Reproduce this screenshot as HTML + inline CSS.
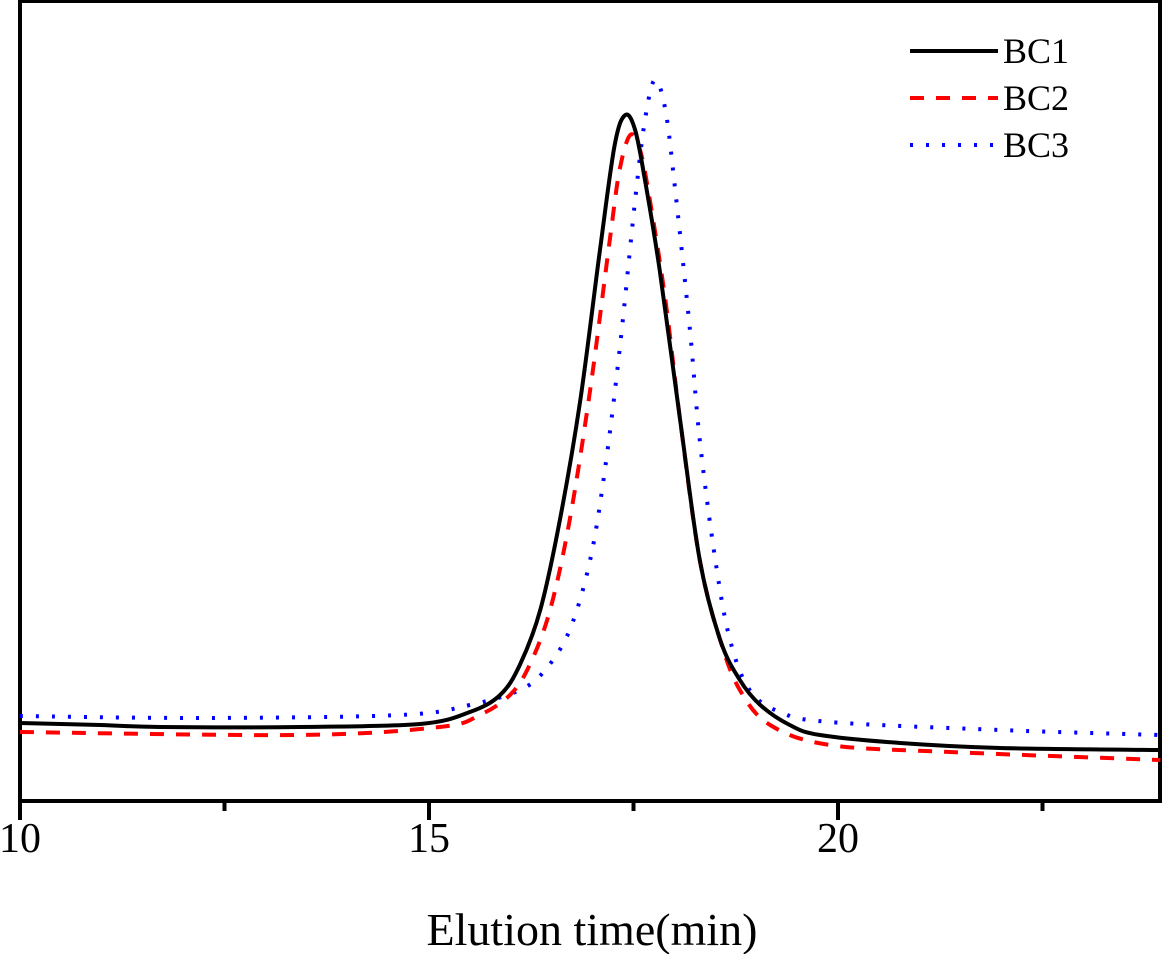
<!DOCTYPE html>
<html><head><meta charset="utf-8"><style>
html,body{margin:0;padding:0;background:#fff;}
svg{display:block;font-family:"Liberation Serif",serif;}
</style></head><body>
<svg id="chart" width="1163" height="954">
<rect x="20" y="1" width="1140" height="800" fill="none" stroke="#000" stroke-width="4"/>
<g id="ticks"></g>
<g id="series"></g>
<text x="592" y="945" font-size="46" text-anchor="middle">Elution time(min)</text>
<g>
<g><line x1="910" y1="51" x2="998" y2="51" stroke="#000" stroke-width="4"/><text x="1003" y="63" font-size="36">BC1</text></g>
<g><line x1="910" y1="98" x2="998" y2="98" stroke="#f00" stroke-width="4" stroke-dasharray="14 12"/><text x="1003" y="110" font-size="36">BC2</text></g>
<g><line x1="910" y1="145" x2="998" y2="145" stroke="#00f" stroke-width="4" stroke-dasharray="3 13"/><text x="1003" y="157" font-size="36">BC3</text></g>
</g>
</svg>
<script>
const bc1X=[10,10.98,11.71,13.42,14.89,15.50,15.87,16.11,16.36,16.60,16.85,17.09,17.27,17.40,17.52,17.64,17.82,18.07,18.31,18.56,18.80,19.05,19.41,19.78,20.76,21.98,23.94];
const bc1Y=[78,76,74,74,77,89,106,136,191,281,401,551,656,686,671,621,531,381,241,161,121,96,76,66,58,53,51];
const bc2X=[10,13.42,15.13,15.62,15.99,16.23,16.48,16.72,16.97,17.21,17.33,17.46,17.58,17.70,17.89,18.07,18.31,18.56,18.80,19.17,19.90,21.37,23.94];
const bc2Y=[69,66,74,86,106,136,191,281,411,561,631,666,651,601,501,381,241,161,111,76,56,49,41];
const bc3X=[10,12.20,14.65,15.50,16.11,16.42,16.72,16.97,17.15,17.33,17.52,17.64,17.76,17.89,18.01,18.19,18.31,18.50,18.68,18.92,19.29,19.90,21.98,23.94];
const bc3Y=[85,83,86,96,111,131,171,241,331,451,601,681,721,691,611,471,361,241,161,111,89,79,71,66];
const majorTicks=[10,15,20];
const minorTicks=[12.5,17.5,22.5];
const tickLabels=["10","15","20"];
const NS="http://www.w3.org/2000/svg";
function sx(v){return 20+(v-10)*81.8;}
function sy(v){return 801-v;}
function pathD(xs,ys){
  const p=xs.map((x,i)=>[sx(x),sy(ys[i])]);
  let d="M"+p[0][0]+","+p[0][1];
  for(let i=0;i<p.length-1;i++){
    const p0=p[i-1]||p[i],p1=p[i],p2=p[i+1],p3=p[i+2]||p2;
    const c1=[p1[0]+(p2[0]-p0[0])/6,p1[1]+(p2[1]-p0[1])/6];
    const c2=[p2[0]-(p3[0]-p1[0])/6,p2[1]-(p3[1]-p1[1])/6];
    d+=" C"+c1+" "+c2+" "+p2;
  }
  return d;
}
const tg=document.getElementById("ticks");
majorTicks.forEach((t,i)=>{
  const l=document.createElementNS(NS,"line");
  l.setAttribute("x1",sx(t));l.setAttribute("x2",sx(t));l.setAttribute("y1",801);l.setAttribute("y2",820);
  l.setAttribute("stroke","#000");l.setAttribute("stroke-width","4");
  
  
  tg.appendChild(l);
  const tx=document.createElementNS(NS,"text");
  tx.setAttribute("x",sx(t));tx.setAttribute("y",852);tx.setAttribute("font-size","42");tx.setAttribute("text-anchor","middle");
  tx.textContent=tickLabels[i];
  
  
  tg.appendChild(tx);
});
minorTicks.forEach(t=>{
  const l=document.createElementNS(NS,"line");
  l.setAttribute("x1",sx(t));l.setAttribute("x2",sx(t));l.setAttribute("y1",801);l.setAttribute("y2",811);
  l.setAttribute("stroke","#000");l.setAttribute("stroke-width","4");
  
  
  tg.appendChild(l);
});
const sg=document.getElementById("series");
[[bc3X,bc3Y,"#00f","3 13","bc3-line"],[bc2X,bc2Y,"#f00","14 12","bc2-line"],[bc1X,bc1Y,"#000","","bc1-line"]].forEach(s=>{
  const p=document.createElementNS(NS,"path");
  p.setAttribute("d",pathD(s[0],s[1]));
  p.setAttribute("fill","none");p.setAttribute("stroke",s[2]);p.setAttribute("stroke-width","4");
  if(s[3])p.setAttribute("stroke-dasharray",s[3]);
  
  
  sg.appendChild(p);
});
</script>
</body></html>
